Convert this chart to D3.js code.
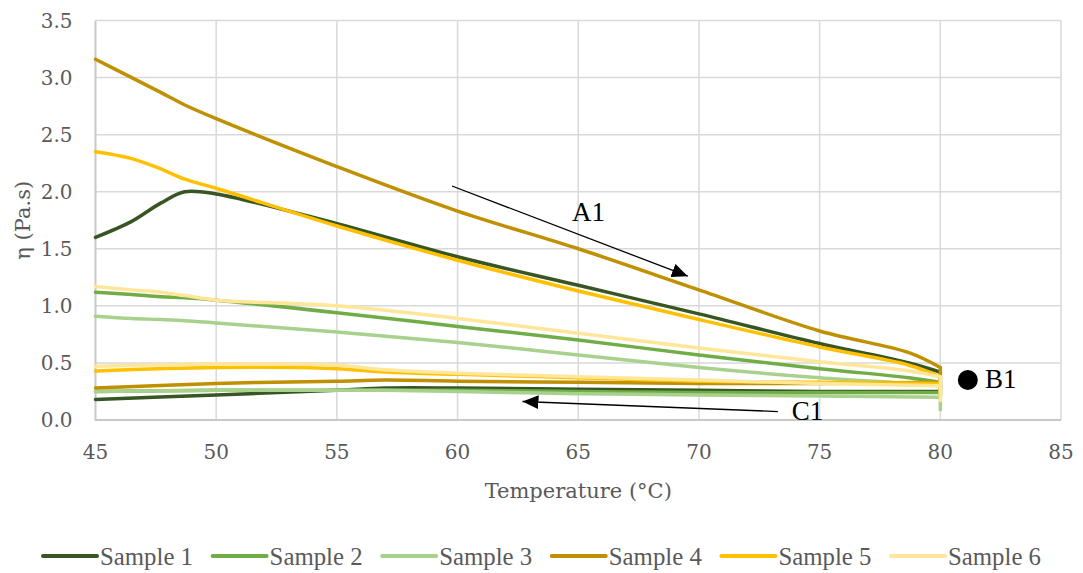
<!DOCTYPE html>
<html>
<head>
<meta charset="utf-8">
<script src="https://cdn.jsdelivr.net/npm/d3@7"></script>
<style>
  html, body { margin: 0; background: #fff; }
  svg { display: block; }
</style>
</head>
<body>
<div id="chart"></div>
<script>
const d3 = window.d3;

const SAMPLES = ["Sample 1", "Sample 2", "Sample 3", "Sample 4", "Sample 5", "Sample 6"];
const COLORS = ["#375623", "#70ad47", "#a9d18e", "#bf9000", "#ffc000", "#ffe699"];

// ramo de aquecimento (45 -> 80), queda em 80 e ramo de volta (80 -> 45)
const UP_T = [45, 46.5, 47.7, 48.7, 50, 55, 60, 65, 70, 75, 78.7, 80];
const LOW_T = [80, 75, 70, 65, 60, 57, 55, 50, 45];

const S1_UP = [1.6, 1.74, 1.9, 2.0, 1.98, 1.72, 1.43, 1.18, 0.93, 0.67, 0.5, 0.42];
const S1_LOW = [0.25, 0.25, 0.26, 0.27, 0.28, 0.28, 0.26, 0.22, 0.18];
const S2_UP = [1.12, 1.1, 1.08, 1.07, 1.05, 0.94, 0.82, 0.7, 0.57, 0.45, 0.37, 0.33];
const S2_LOW = [0.24, 0.24, 0.24, 0.25, 0.26, 0.26, 0.26, 0.26, 0.25];
const S3_UP = [0.91, 0.89, 0.88, 0.87, 0.85, 0.77, 0.68, 0.57, 0.46, 0.37, 0.32, 0.3];
const S3_LOW = [0.2, 0.21, 0.22, 0.23, 0.25, 0.26, 0.26, 0.26, 0.25];
const S4_UP = [3.16, 3.0, 2.87, 2.76, 2.64, 2.22, 1.83, 1.5, 1.14, 0.78, 0.59, 0.46];
const S4_LOW = [0.33, 0.32, 0.32, 0.33, 0.34, 0.35, 0.34, 0.32, 0.28];
const S5_UP = [2.35, 2.29, 2.2, 2.11, 2.03, 1.7, 1.4, 1.13, 0.88, 0.64, 0.48, 0.38];
const S5_LOW = [0.32, 0.33, 0.34, 0.37, 0.4, 0.42, 0.45, 0.46, 0.43];
const S6_UP = [1.17, 1.14, 1.12, 1.09, 1.05, 1.0, 0.89, 0.76, 0.63, 0.51, 0.43, 0.38];
const S6_LOW = [0.3, 0.32, 0.35, 0.38, 0.41, 0.44, 0.48, 0.49, 0.47];

// fundo da queda vertical em 80 °C
const DROP_MIN = [0.22, 0.2, 0.09, 0.25, 0.2, 0.17];

const SERIES_UP = [S1_UP, S2_UP, S3_UP, S4_UP, S5_UP, S6_UP];
const SERIES_LOW = [S1_LOW, S2_LOW, S3_LOW, S4_LOW, S5_LOW, S6_LOW];

const X_TICKS = [45, 50, 55, 60, 65, 70, 75, 80, 85];
const Y_TICKS = [0, 0.5, 1.0, 1.5, 2.0, 2.5, 3.0, 3.5];

// anotações em unidades de dados (temperatura, viscosidade)
const A1_ARROW = [[59.77, 2.05], [69.54, 1.26]];
const C1_ARROW = [[73.27, 0.074], [62.69, 0.162]];
const B1_POINT = [81.14, 0.35];
const NOTES = [
  { text: "A1", t: 64.74, v: 1.74 },
  { text: "B1", t: 81.85, v: 0.28 },
  { text: "C1", t: 73.85, v: 0.0 },
];

const W = 1083;
const H = 573;
const MARGIN = { top: 20.5, right: 22, bottom: 153, left: 95.5 };
const FONT = "'DejaVu Serif', serif";
const GREY = "#595959";

const svg = d3.select("#chart").append("svg").attr("width", W).attr("height", H);

const x = d3.scaleLinear().domain([45, 85]).range([MARGIN.left, W - MARGIN.right]);
const y = d3.scaleLinear().domain([0, 3.5]).range([H - MARGIN.bottom, MARGIN.top]);

// grade
svg
  .append("g")
  .selectAll("line")
  .data(Y_TICKS.slice(1))
  .join("line")
  .attr("x1", x(45))
  .attr("x2", x(85))
  .attr("y1", (d) => y(d))
  .attr("y2", (d) => y(d))
  .attr("stroke", "#d9d9d9")
  .attr("stroke-width", 1.5);

svg
  .append("g")
  .selectAll("line")
  .data(X_TICKS.slice(1))
  .join("line")
  .attr("x1", (d) => x(d))
  .attr("x2", (d) => x(d))
  .attr("y1", y(0))
  .attr("y2", y(3.5))
  .attr("stroke", "#d9d9d9")
  .attr("stroke-width", 1.5);

// eixos
svg
  .append("path")
  .attr("d", `M${x(45)},${y(3.5)}V${y(0)}H${x(85)}`)
  .attr("fill", "none")
  .attr("stroke", "#c8c8c8")
  .attr("stroke-width", 2);

svg
  .append("g")
  .selectAll("text")
  .data(Y_TICKS)
  .join("text")
  .attr("x", x(45) - 23)
  .attr("y", (d) => y(d))
  .attr("dy", "0.36em")
  .attr("text-anchor", "end")
  .attr("font-family", FONT)
  .attr("font-size", 20)
  .attr("fill", GREY)
  .text((d) => d.toFixed(1));

svg
  .append("g")
  .selectAll("text")
  .data(X_TICKS)
  .join("text")
  .attr("x", (d) => x(d))
  .attr("y", y(0) + 39)
  .attr("text-anchor", "middle")
  .attr("font-family", FONT)
  .attr("font-size", 20)
  .attr("fill", GREY)
  .text((d) => d);

svg
  .append("text")
  .attr("x", (x(45) + x(85)) / 2)
  .attr("y", 498)
  .attr("text-anchor", "middle")
  .attr("font-family", FONT)
  .attr("font-size", 21)
  .attr("fill", GREY)
  .text("Temperature (°C)");

svg
  .append("text")
  .attr("transform", `translate(30,${(y(0) + y(3.5)) / 2}) rotate(-90)`)
  .attr("text-anchor", "middle")
  .attr("font-family", FONT)
  .attr("font-size", 21)
  .attr("fill", GREY)
  .text("η (Pa.s)");

// curvas: cada amostra = subida + queda em 80 + volta
const smooth = d3
  .line()
  .x((d) => x(d[0]))
  .y((d) => y(d[1]))
  .curve(d3.curveCatmullRom.alpha(0.5));
const straight = d3
  .line()
  .x((d) => x(d[0]))
  .y((d) => y(d[1]));

const seriesData = SAMPLES.map((name, i) => {
  const up = UP_T.map((t, k) => [t, SERIES_UP[i][k]]);
  const low = LOW_T.map((t, k) => [t, SERIES_LOW[i][k]]);
  const drop = [[80, SERIES_UP[i][UP_T.length - 1]], [80, DROP_MIN[i]], [80, SERIES_LOW[i][0]]];
  return { name, color: COLORS[i], up, low, drop };
});

svg
  .append("g")
  .selectAll("path")
  .data(seriesData)
  .join("path")
  .attr("d", (d) => smooth(d.up) + straight(d.drop) + smooth(d.low))
  .attr("fill", "none")
  .attr("stroke", (d) => d.color)
  .attr("stroke-width", 3.5)
  .attr("stroke-linejoin", "round")
  .attr("stroke-linecap", "round");

// setas e rótulos
const defs = svg.append("defs");
defs
  .append("marker")
  .attr("id", "arrow")
  .attr("viewBox", "0 0 16 14")
  .attr("refX", 16)
  .attr("refY", 7)
  .attr("markerWidth", 16)
  .attr("markerHeight", 14)
  .attr("markerUnits", "userSpaceOnUse")
  .attr("orient", "auto")
  .append("path")
  .attr("d", "M0,0L16,7L0,14Z")
  .attr("fill", "#000");

svg
  .append("g")
  .selectAll("path")
  .data([A1_ARROW, C1_ARROW])
  .join("path")
  .attr("d", (d) => straight(d))
  .attr("stroke", "#000")
  .attr("stroke-width", 1.3)
  .attr("fill", "none")
  .attr("marker-end", "url(#arrow)");

svg
  .append("circle")
  .attr("cx", x(B1_POINT[0]))
  .attr("cy", y(B1_POINT[1]))
  .attr("r", 10)
  .attr("fill", "#000");

svg
  .append("g")
  .selectAll("text")
  .data(NOTES)
  .join("text")
  .attr("x", (d) => x(d.t))
  .attr("y", (d) => y(d.v))
  .attr("font-family", "'Liberation Serif', serif")
  .attr("font-size", 27)
  .attr("fill", "#000")
  .text((d) => d.text);

// legenda
const legend = svg
  .append("g")
  .selectAll("g")
  .data(seriesData)
  .join("g")
  .attr("transform", (d, i) => `translate(${43 + i * 169.6},556)`);

legend
  .append("line")
  .attr("x1", 0)
  .attr("x2", 54)
  .attr("stroke", (d) => d.color)
  .attr("stroke-width", 4)
  .attr("stroke-linecap", "round");

legend
  .append("text")
  .attr("x", 57)
  .attr("dy", "0.35em")
  .attr("font-family", "'Liberation Serif', serif")
  .attr("font-size", 25)
  .attr("textLength", 93)
  .attr("lengthAdjust", "spacingAndGlyphs")
  .attr("fill", GREY)
  .text((d) => d.name);
</script>
</body>
</html>
